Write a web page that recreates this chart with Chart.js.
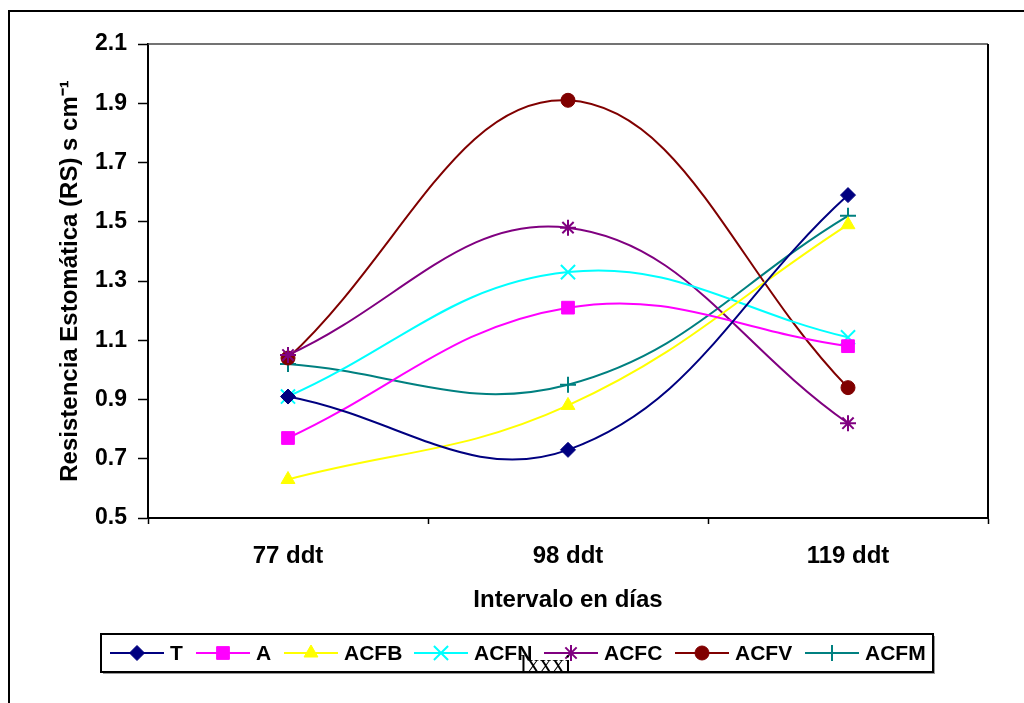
<!DOCTYPE html>
<html lang="es">
<head>
<meta charset="UTF-8">
<title>Resistencia Estomática</title>
<script src="https://cdn.jsdelivr.net/npm/chart.js"></script>
<style>
  html, body { margin: 0; padding: 0; background: #fff; }
  #chart { display: block; }
</style>
</head>
<body>
<canvas id="chart" width="1024" height="703"></canvas>
<script>
// datos
const categories = ['77 ddt', '98 ddt', '119 ddt'];
const serieT    = [0.91, 0.73, 1.59];
const serieA    = [0.77, 1.21, 1.08];
const serieACFB = [0.63, 0.88, 1.49];
const serieACFN = [0.91, 1.33, 1.11];
const serieACFC = [1.05, 1.48, 0.82];
const serieACFV = [1.04, 1.91, 0.94];
const serieACFM = [1.02, 0.95, 1.52];
const yTicks = [0.5, 0.7, 0.9, 1.1, 1.3, 1.5, 1.7, 1.9, 2.1];

const FONT = "'Liberation Sans', Arial, sans-serif";

function serie(label, data, color, pointStyle, radius, pbw) {
    return {
        label: label,
        data: data,
        borderColor: color,
        backgroundColor: color,
        pointBackgroundColor: color,
        pointBorderColor: color,
        pointStyle: pointStyle,
        pointRadius: radius,
        pointHoverRadius: radius,
        pointBorderWidth: pbw,
        borderWidth: 2,
        tension: 0.4,
        fill: false
    };
}

// fondo, marco exterior y borde del area de trazado
const framePlugin = {
    id: 'frame',
    beforeDraw(chart) {
        const ctx = chart.ctx;
        ctx.save();
        ctx.fillStyle = '#fff';
        ctx.fillRect(0, 0, chart.width, chart.height);
        ctx.strokeStyle = '#000';
        ctx.lineWidth = 2;
        ctx.beginPath();
        ctx.moveTo(9, 703);
        ctx.lineTo(9, 11);
        ctx.lineTo(1024, 11);
        ctx.stroke();
        ctx.restore();
    },
    afterDatasetsDraw(chart) {
        const a = chart.chartArea;
        const ctx = chart.ctx;
        ctx.save();
        ctx.strokeStyle = '#444';
        ctx.lineWidth = 1.5;
        ctx.beginPath();
        ctx.moveTo(a.left, a.top);
        ctx.lineTo(a.right, a.top);
        ctx.stroke();
        ctx.strokeStyle = '#000';
        ctx.lineWidth = 2;
        ctx.beginPath();
        ctx.moveTo(a.right, a.top);
        ctx.lineTo(a.right, a.bottom);
        ctx.stroke();
        ctx.restore();
    }
};

// leyenda tipo Excel: linea + marcador + texto, en una caja
const legendPlugin = {
    id: 'excelLegend',
    afterDraw(chart) {
        const ctx = chart.ctx;
        const starts = [110, 196, 284, 414, 544, 675, 805];
        const cy = 653;
        ctx.save();
        ctx.fillStyle = '#999';
        ctx.fillRect(103, 636, 832, 38);
        ctx.fillStyle = '#fff';
        ctx.fillRect(101, 634, 832, 38);
        ctx.strokeStyle = '#000';
        ctx.lineWidth = 2;
        ctx.strokeRect(101, 634, 832, 38);

        chart.data.datasets.forEach((ds, i) => {
            const x0 = starts[i];
            ctx.strokeStyle = ds.borderColor;
            ctx.lineWidth = 2;
            ctx.beginPath();
            ctx.moveTo(x0, cy);
            ctx.lineTo(x0 + 54, cy);
            ctx.stroke();
            ctx.fillStyle = ds.backgroundColor;
            ctx.strokeStyle = ds.borderColor;
            ctx.lineWidth = ds.pointBorderWidth;
            Chart.helpers.drawPoint(ctx, {
                pointStyle: ds.pointStyle,
                radius: ds.pointRadius,
                rotation: 0,
                borderWidth: ds.pointBorderWidth
            }, x0 + 27, cy);
            ctx.fillStyle = '#000';
            ctx.font = 'bold 21px ' + FONT;
            ctx.textAlign = 'left';
            ctx.textBaseline = 'middle';
            ctx.fillText(ds.label, x0 + 60, cy + 1);
        });

        // numero de pagina que aparece encima de la leyenda
        ctx.fillStyle = '#000';
        ctx.font = "25px 'Liberation Serif', 'Times New Roman', serif";
        ctx.textAlign = 'left';
        ctx.textBaseline = 'alphabetic';
        ctx.fillText('lxxxi', 520, 672);
        ctx.restore();
    }
};

const ctx = document.getElementById('chart').getContext('2d');
const chart = new Chart(ctx, {
    type: 'line',
    data: {
        labels: categories,
        datasets: [
            serie('T', serieT, '#000080', 'rectRot', 7.5, 1),
            serie('A', serieA, '#FF00FF', 'rect', 9, 1),
            serie('ACFB', serieACFB, '#FFFF00', 'triangle', 8, 1),
            serie('ACFN', serieACFN, '#00FFFF', 'crossRot', 10, 2),
            serie('ACFC', serieACFC, '#800080', 'star', 8, 2),
            serie('ACFV', serieACFV, '#800000', 'circle', 7, 1),
            serie('ACFM', serieACFM, '#008080', 'cross', 8, 2)
        ]
    },
    options: {
        responsive: false,
        devicePixelRatio: 1,
        animation: false,
        layout: { padding: { top: 44, right: 36, left: 0, bottom: 0 } },
        plugins: {
            legend: { display: false },
            tooltip: { enabled: false }
        },
        scales: {
            x: {
                type: 'category',
                offset: true,
                afterFit(scale) { scale.height = 185; },
                grid: {
                    offset: true,
                    drawOnChartArea: false,
                    tickLength: 6,
                    tickColor: '#000',
                    tickWidth: 1.5
                },
                border: { color: '#000', width: 2 },
                ticks: {
                    color: '#000',
                    padding: 18,
                    font: { family: FONT, size: 24, weight: 'bold' }
                },
                title: {
                    display: true,
                    text: 'Intervalo en días',
                    color: '#000',
                    padding: { top: 0, bottom: 88 },
                    font: { family: FONT, size: 24, weight: 'bold' }
                }
            },
            y: {
                min: 0.5,
                max: 2.1,
                afterFit(scale) { scale.width = 148; },
                afterBuildTicks(scale) {
                    scale.ticks = yTicks.map(v => ({ value: v }));
                },
                grid: {
                    drawOnChartArea: false,
                    tickLength: 10,
                    tickColor: '#000',
                    tickWidth: 1.5
                },
                border: { color: '#000', width: 2 },
                ticks: {
                    color: '#000',
                    padding: 11,
                    font: { family: FONT, size: 23, weight: 'bold' },
                    callback: v => Number(v).toFixed(1)
                },
                title: {
                    display: true,
                    text: 'Resistencia Estomática (RS) s cm⁻¹',
                    color: '#000',
                    padding: { top: 56, bottom: 0 },
                    font: { family: FONT, size: 24, weight: 'bold' }
                }
            }
        }
    },
    plugins: [framePlugin, legendPlugin]
});
</script>
</body>
</html>
